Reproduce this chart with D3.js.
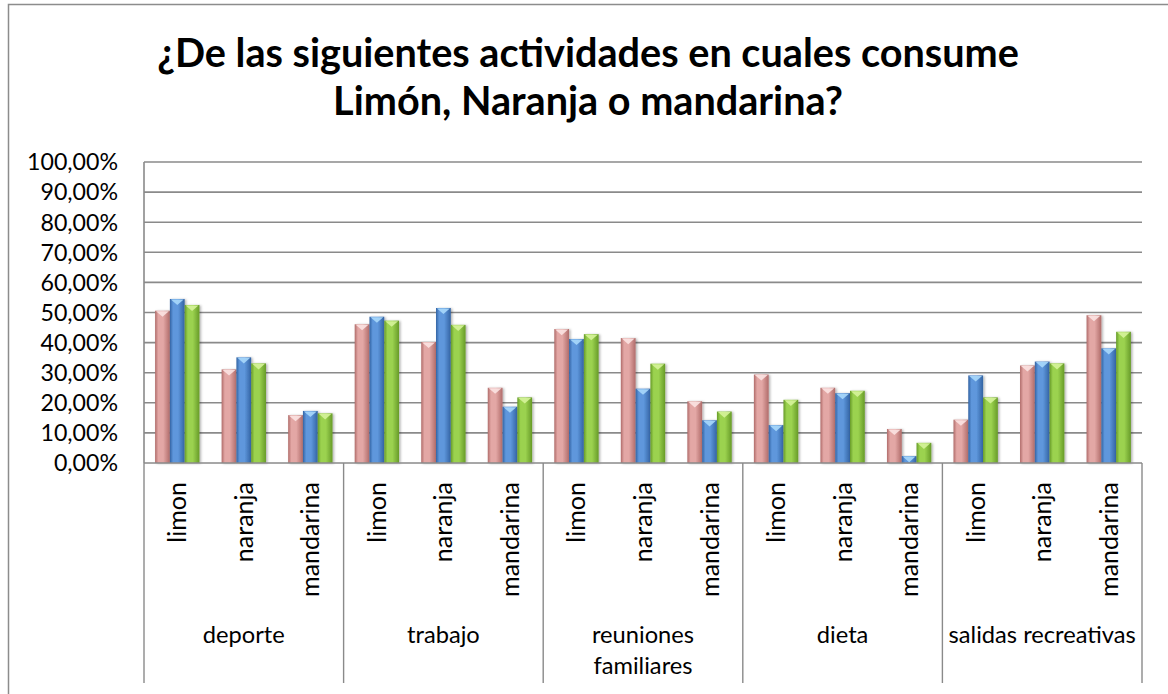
<!DOCTYPE html>
<html>
<head>
<meta charset="utf-8">
<script src="https://cdnjs.cloudflare.com/ajax/libs/d3/7.8.5/d3.min.js"></script>
<style>
  body { margin: 0; background: #fff; }
  svg { display: block; font-family: Lato, "Noto Sans", sans-serif; }
</style>
</head>
<body>
<svg id="chart" width="1168" height="694"></svg>
<script>
var titleLines = ['¿De las siguientes actividades en cuales consume', 'Limón, Naranja o mandarina?'];
var groups = ['deporte', 'trabajo', 'reuniones\nfamiliares', 'dieta', 'salidas recreativas'];
var fruits = ['limon', 'naranja', 'mandarina'];
var seriesNames = ['Serie1', 'Serie2', 'Serie3'];
var yTicks = [0, 0.1, 0.2, 0.3, 0.4, 0.5, 0.6, 0.7, 0.8, 0.9, 1];

// values per series, in order deporte..salidas, limon/naranja/mandarina
var serie1 = [0.506, 0.311, 0.159, 0.461, 0.402, 0.250, 0.445, 0.415, 0.205, 0.294, 0.250, 0.113, 0.144, 0.324, 0.491];
var serie2 = [0.545, 0.351, 0.173, 0.486, 0.515, 0.187, 0.412, 0.247, 0.142, 0.126, 0.232, 0.023, 0.291, 0.337, 0.381];
var serie3 = [0.525, 0.331, 0.165, 0.473, 0.459, 0.218, 0.428, 0.330, 0.171, 0.210, 0.240, 0.067, 0.218, 0.331, 0.436];

var svg = d3.select('#chart');

var plot = { left: 144, right: 1142, top: 162, bottom: 463 };
var gridColor = '#8a8a8a';

// palettes: edge, center, top triangle
var colors = {
  Serie1: { edge: '#b06c6a', mid: '#e3a7a5', tip: '#fbe3e2' },
  Serie2: { edge: '#3363a3', mid: '#5e97dc', tip: '#a8d8fb' },
  Serie3: { edge: '#679b28', mid: '#9bd24f', tip: '#d6f39a' }
};

//build rows from the arrays
var cats = [];
groups.forEach(function(g, gi) {
  fruits.forEach(function(f, fi) {
    cats.push({ id: gi + '-' + fi, group: g, fruit: f, idx: gi * 3 + fi });
  });
});
var seriesValues = { Serie1: serie1, Serie2: serie2, Serie3: serie3 };

var x = d3.scaleBand().domain(cats.map(function(c) { return c.id; }))
  .range([plot.left, plot.right]).padding(0);
var xg = d3.scaleBand().domain(groups).range([plot.left, plot.right]).padding(0);
var xs = d3.scaleBand().domain(seriesNames).range([0, x.bandwidth()])
  .paddingInner(0).paddingOuter(0.75);
var y = d3.scaleLinear().domain([0, 1]).range([plot.bottom, plot.top]);

//gradients
var defs = svg.append('defs');
seriesNames.forEach(function(s) {
  var c = colors[s];
  var lg = defs.append('linearGradient').attr('id', 'g-' + s)
    .attr('x1', '0').attr('x2', '1').attr('y1', '0').attr('y2', '0');
  lg.append('stop').attr('offset', '0%').attr('stop-color', c.edge);
  lg.append('stop').attr('offset', '22%').attr('stop-color', c.mid);
  lg.append('stop').attr('offset', '55%').attr('stop-color', c.mid);
  lg.append('stop').attr('offset', '100%').attr('stop-color', c.edge);
});
var shadow = defs.append('filter').attr('id', 'shadow')
  .attr('x', '-20%').attr('y', '-5%').attr('width', '150%').attr('height', '115%');
shadow.append('feDropShadow').attr('dx', 1.5).attr('dy', 0.5)
  .attr('stdDeviation', 1).attr('flood-color', '#000').attr('flood-opacity', 0.3);

//outer border (chart area is cropped at right/bottom)
svg.append('rect').attr('x', 8.5).attr('y', 4.5).attr('width', 1200).attr('height', 760)
  .attr('fill', '#fff').attr('stroke', '#8c8c8c').attr('stroke-width', 1.5);

//title
var title = svg.append('g').attr('class', 'title');
titleLines.forEach(function(t, i) {
  title.append('text').text(t)
    .attr('x', 588).attr('y', 67 + i * 48)
    .attr('text-anchor', 'middle')
    .attr('font-weight', 'bold')
    .attr('fill', '#000');
});
fitFont(title.selectAll('text'), title.select('text').node(), 862);

//gridlines
svg.append('g').selectAll('line').data(yTicks.slice(1)).join('line')
  .attr('x1', plot.left).attr('x2', plot.right)
  .attr('y1', function(d) { return y(d); }).attr('y2', function(d) { return y(d); })
  .attr('stroke', gridColor).attr('stroke-width', 1.6);

//y tick labels
var yLab = svg.append('g').selectAll('text').data(yTicks).join('text')
  .attr('x', 118).attr('y', function(d) { return y(d); })
  .attr('dy', '0.36em')
  .attr('text-anchor', 'end')
  .attr('fill', '#000')
  .text(function(d) { return d3.format('.2f')(d * 100).replace('.', ',') + '%'; });
fitFont(yLab, yLab.filter(function(d) { return d === 1; }).node(), 91);

//bars
var barG = svg.append('g');
seriesNames.forEach(function(s) {
  var vals = seriesValues[s];
  var g = barG.append('g').attr('class', 'series-' + s);
  var sel = g.selectAll('g').data(cats).join('g').attr('filter', 'url(#shadow)');
  sel.append('rect')
    .attr('x', function(d) { return x(d.id) + xs(s); })
    .attr('y', function(d) { return y(vals[d.idx]); })
    .attr('width', xs.bandwidth())
    .attr('height', function(d) { return y(0) - y(vals[d.idx]); })
    .attr('fill', 'url(#g-' + s + ')');
  sel.append('path')
    .attr('d', function(d) {
      var x0 = x(d.id) + xs(s) + 1;
      var x1 = x0 + xs.bandwidth() - 2;
      var top = y(vals[d.idx]) + 0.5;
      var h = Math.min(xs.bandwidth() * 0.38, y(0) - top);
      return 'M' + x0 + ',' + top + 'L' + x1 + ',' + top + 'L' + (x0 + x1) / 2 + ',' + (top + h) + 'Z';
    })
    .attr('fill', colors[s].tip)
    .attr('opacity', 0.9);
});

//axes lines
svg.append('line').attr('x1', plot.left).attr('x2', plot.left)
  .attr('y1', plot.top).attr('y2', plot.bottom)
  .attr('stroke', gridColor).attr('stroke-width', 1.6);
svg.append('line').attr('x1', plot.left).attr('x2', plot.right)
  .attr('y1', plot.bottom).attr('y2', plot.bottom)
  .attr('stroke', gridColor).attr('stroke-width', 1.6);

//group separators
var seps = groups.map(function(g) { return xg(g); }).concat([plot.right]);
svg.append('g').selectAll('line').data(seps).join('line')
  .attr('x1', function(d) { return d; }).attr('x2', function(d) { return d; })
  .attr('y1', plot.bottom).attr('y2', 683)
  .attr('stroke', gridColor).attr('stroke-width', 1.4);

//inner category labels (rotated)
var catLab = svg.append('g').selectAll('text').data(cats).join('text')
  .attr('transform', function(d) {
    return 'translate(' + (x(d.id) + x.bandwidth() / 2) + ',482) rotate(-90)';
  })
  .attr('dy', '0.36em')
  .attr('text-anchor', 'end')
  .attr('fill', '#000')
  .text(function(d) { return d.fruit; });
fitFont(catLab, catLab.filter(function(d) { return d.fruit === 'mandarina'; }).node(), 115);

//group labels
var grpLab = svg.append('g').selectAll('text').data(groups).join('text')
  .attr('x', function(d) { return xg(d) + xg.bandwidth() / 2; })
  .attr('y', 643)
  .attr('text-anchor', 'middle')
  .attr('fill', '#000');
grpLab.each(function(d) {
  var el = d3.select(this);
  d.split('\n').forEach(function(line, i) {
    el.append('tspan').attr('x', xg(d) + xg.bandwidth() / 2)
      .attr('dy', i === 0 ? 0 : 31).text(line);
  });
});
fitFont(grpLab, grpLab.filter(function(d) { return d === 'deporte'; }).node(), 82);

//scale a text selection so a reference string reaches a target width
function fitFont(sel, ref, target) {
  sel.attr('font-size', 40);
  var w = ref.getComputedTextLength();
  sel.attr('font-size', (40 * target / w).toFixed(2));
}
</script>
</body>
</html>
